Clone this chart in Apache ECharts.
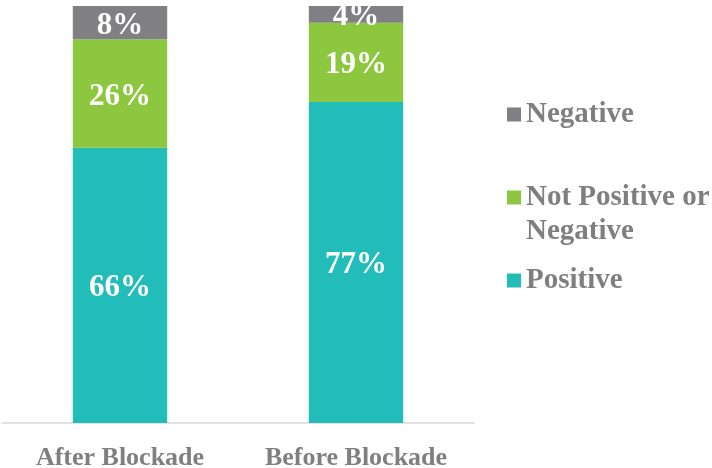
<!DOCTYPE html>
<html>
<head>
<meta charset="utf-8">
<script src="https://cdn.jsdelivr.net/npm/echarts@6/dist/echarts.min.js"></script>
<style>
  html, body { margin: 0; padding: 0; background: #fff; }
  #chart { width: 712px; height: 468px; }
</style>
</head>
<body>
<div id="chart"></div>
<script>
const categories = ['After Blockade', 'Before Blockade'];
const positive = [66, 77];
const neutral = [26, 19];
const negative = [8, 4];

const FONT = '"Liberation Serif", "Times New Roman", serif';
const GREY_TEXT = '#7f7f7f';

const chart = echarts.init(document.getElementById('chart'));

const barLabel = {
  show: true,
  position: 'inside',
  offset: [0, 3],
  formatter: '{c}%',
  color: '#fff',
  fontFamily: FONT,
  fontWeight: 'bold',
  fontSize: 31
};

const legendText = {
  fontFamily: FONT,
  fontWeight: 'bold',
  fontSize: 29,
  color: GREY_TEXT
};

const legendBase = {
  orient: 'vertical',
  left: 507,
  padding: 0,
  itemWidth: 14,
  itemHeight: 14,
  itemGap: 0,
  icon: 'rect',
  selectedMode: false,
  textStyle: legendText
};

const option = {
  animation: false,
  grid: { left: 2, right: 238, top: 6, bottom: 45, outerBoundsMode: 'none' },
  legend: [
    Object.assign({}, legendBase, { data: ['Negative'], top: 100 }),
    Object.assign({}, legendBase, {
      data: ['Not Positive or Negative'],
      top: 149,
      // blank first line keeps the icon level with the first text line
      formatter: () => '{s| }\n{a|Not Positive or}\n{a|Negative}',
      textStyle: Object.assign({}, legendText, {
        rich: {
          s: { lineHeight: 34, fontSize: 29, fontFamily: FONT },
          a: Object.assign({ lineHeight: 34 }, legendText)
        }
      })
    }),
    Object.assign({}, legendBase, { data: ['Positive'], top: 266 })
  ],
  xAxis: {
    type: 'category',
    data: categories,
    axisTick: { show: false },
    axisLine: { lineStyle: { color: '#d9d9d9', width: 1.5 } },
    axisLabel: {
      interval: 0,
      margin: 22,
      fontFamily: FONT,
      fontWeight: 'bold',
      fontSize: 26,
      color: GREY_TEXT
    }
  },
  yAxis: {
    type: 'value',
    min: 0,
    max: 100,
    show: false,
    splitLine: { show: false }
  },
  series: [
    {
      name: 'Positive',
      type: 'bar',
      stack: 'total',
      barWidth: '40%',
      data: positive,
      itemStyle: { color: '#22bdb8' },
      label: barLabel
    },
    {
      name: 'Not Positive or Negative',
      type: 'bar',
      stack: 'total',
      data: neutral,
      itemStyle: { color: '#8dc63f' },
      label: barLabel
    },
    {
      name: 'Negative',
      type: 'bar',
      stack: 'total',
      data: negative,
      itemStyle: { color: '#7f7f84' },
      label: barLabel
    }
  ]
};

chart.setOption(option);
</script>
</body>
</html>
